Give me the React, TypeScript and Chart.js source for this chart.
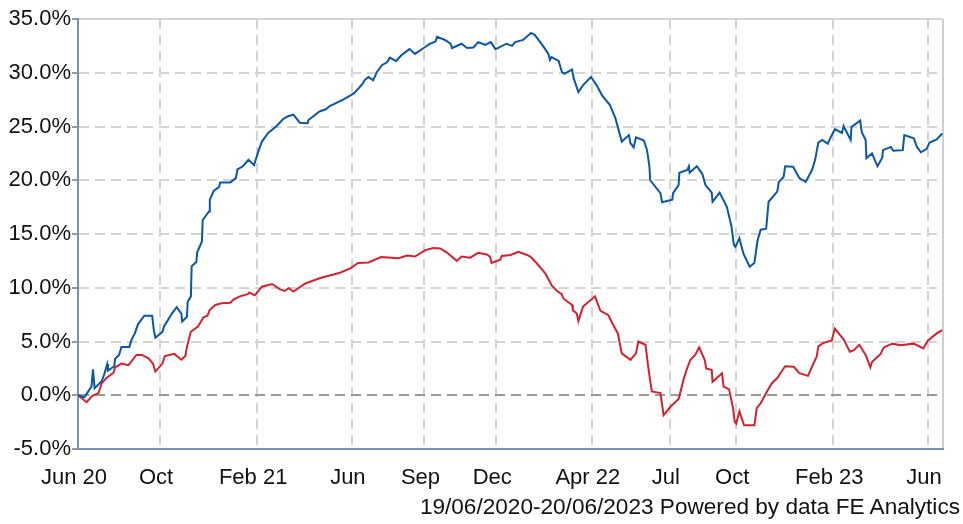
import React, { useEffect, useRef } from "react";
import { Chart, registerables } from "chart.js";

Chart.register(...registerables);

// Days since 19/06/2020
const blueDays = [0, 8, 17, 19, 21, 30, 33, 37, 38, 46, 47, 52, 55, 65, 68, 72, 76, 84, 94, 96, 98, 107, 109, 119, 125, 131, 132, 138, 139, 143, 144, 150, 151, 157, 158, 166, 167, 172, 179, 180, 193, 200, 202, 209, 216, 223, 229, 233, 241, 251, 260, 266, 273, 281, 291, 292, 306, 314, 319, 336, 350, 361, 363, 368, 374, 379, 385, 392, 395, 403, 410, 420, 427, 438, 446, 453, 455, 465, 472, 474, 486, 493, 501, 507, 516, 523, 529, 543, 550, 554, 564, 574, 579, 590, 596, 598, 600, 609, 613, 616, 626, 628, 634, 640, 650, 657, 664, 674, 681, 689, 698, 700, 704, 707, 717, 721, 724, 725, 738, 740, 753, 754, 761, 762, 772, 774, 775, 784, 791, 795, 803, 804, 813, 822, 828, 831, 833, 838, 843, 851, 857, 859, 861, 865, 872, 875, 886, 888, 894, 896, 906, 914, 922, 930, 934, 938, 943, 950, 953, 959, 968, 970, 979, 980, 991, 993, 998, 999, 1006, 1013, 1019, 1020, 1030, 1033, 1045, 1047, 1059, 1063, 1068, 1075, 1079, 1088, 1095];
const blueValues = [0.0, -0.2, 0.8, 2.4, 0.65, 1.3, 1.9, 2.9, 2.3, 2.7, 3.4, 3.75, 4.5, 4.5, 5.2, 5.75, 6.6, 7.4, 7.4, 6.1, 5.35, 5.9, 6.4, 7.6, 8.2, 7.6, 6.85, 7.3, 8.7, 9.2, 12.0, 12.4, 13.3, 14.3, 16.3, 17.1, 18.2, 19.0, 19.4, 19.8, 19.8, 20.2, 21.0, 21.3, 21.9, 21.4, 22.8, 23.6, 24.4, 25.0, 25.7, 25.95, 26.1, 25.35, 25.3, 25.6, 26.4, 26.6, 26.9, 27.5, 28.1, 29.0, 29.3, 29.6, 29.3, 30.1, 30.7, 31.0, 31.4, 31.1, 31.65, 32.2, 31.75, 32.3, 32.7, 32.9, 33.35, 33.05, 32.7, 32.3, 32.7, 32.3, 32.35, 32.85, 32.6, 32.85, 32.2, 32.7, 32.5, 32.85, 33.05, 33.7, 33.5, 32.4, 31.75, 31.2, 31.45, 31.1, 30.1, 29.9, 30.3, 29.5, 28.2, 28.85, 29.6, 28.85, 27.9, 27.0, 25.75, 23.6, 24.2, 23.45, 23.05, 24.0, 23.7, 22.8, 21.3, 20.0, 18.8, 17.95, 18.2, 18.8, 19.55, 20.7, 20.95, 21.3, 20.7, 21.3, 20.6, 19.55, 18.85, 18.0, 18.85, 17.55, 15.7, 14.0, 13.8, 14.6, 13.2, 11.95, 12.3, 13.35, 14.4, 15.4, 15.5, 18.0, 18.95, 19.85, 20.3, 21.3, 21.25, 20.2, 19.85, 20.95, 21.9, 23.5, 23.75, 23.4, 23.9, 24.75, 24.4, 25.05, 23.75, 24.95, 25.55, 24.5, 23.75, 22.05, 22.5, 21.3, 22.1, 22.8, 23.1, 22.75, 22.8, 24.2, 23.9, 23.1, 22.6, 22.9, 23.5, 23.8, 24.35];

const redDays = [0, 11, 18, 26, 30, 36, 45, 47, 55, 64, 74, 81, 89, 95, 98, 107, 110, 122, 131, 136, 138, 143, 152, 159, 164, 167, 174, 182, 193, 197, 205, 215, 217, 224, 233, 246, 256, 262, 267, 273, 288, 307, 332, 345, 355, 368, 384, 406, 417, 427, 440, 450, 459, 467, 480, 486, 497, 507, 518, 522, 524, 535, 537, 548, 558, 569, 573, 581, 592, 600, 607, 613, 615, 626, 627, 632, 634, 640, 655, 662, 672, 677, 684, 689, 700, 707, 710, 719, 723, 727, 738, 742, 751, 761, 767, 771, 776, 782, 787, 794, 796, 803, 804, 816, 818, 825, 830, 832, 834, 838, 844, 857, 860, 865, 873, 879, 886, 890, 896, 907, 914, 925, 930, 936, 938, 944, 955, 959, 970, 978, 983, 990, 998, 1004, 1006, 1017, 1021, 1032, 1042, 1059, 1071, 1077, 1088, 1095];
const redValues = [0.0, -0.65, -0.05, 0.2, 1.1, 1.6, 2.1, 2.6, 2.95, 2.8, 3.75, 3.75, 3.45, 2.95, 2.2, 2.95, 3.65, 3.85, 3.3, 3.65, 4.5, 5.9, 6.4, 7.25, 7.4, 7.95, 8.4, 8.55, 8.6, 8.9, 9.2, 9.4, 9.55, 9.3, 10.1, 10.35, 9.85, 9.7, 9.95, 9.65, 10.4, 10.9, 11.4, 11.8, 12.3, 12.35, 12.85, 12.75, 13.0, 12.9, 13.5, 13.7, 13.65, 13.3, 12.5, 12.9, 12.8, 13.25, 13.1, 12.9, 12.3, 12.6, 12.95, 13.05, 13.35, 13.05, 12.9, 12.3, 11.35, 10.25, 9.7, 9.4, 9.0, 8.4, 7.9, 7.6, 6.9, 8.25, 9.2, 7.85, 7.45, 6.7, 5.75, 3.9, 3.3, 3.9, 5.0, 4.7, 2.35, 0.35, 0.2, -1.85, -1.05, -0.35, 1.4, 2.35, 3.3, 3.75, 4.45, 3.3, 2.5, 2.35, 1.25, 2.05, 0.8, 0.55, -1.2, -2.45, -2.65, -1.5, -2.8, -2.8, -1.2, -0.75, 0.35, 1.1, 1.6, 2.05, 2.7, 2.65, 2.05, 1.8, 2.65, 3.6, 4.55, 4.85, 5.1, 6.2, 5.2, 4.05, 4.2, 4.7, 3.75, 2.6, 3.1, 3.85, 4.45, 4.8, 4.65, 4.8, 4.35, 5.1, 5.75, 6.05];

const tickDays = [0, 104, 227, 347, 439, 530, 651, 750, 834, 957, 1077, 1096];
const tickLabels = ["Jun 20", "Oct", "Feb 21", "Jun", "Sep", "Dec", "Apr 22", "Jul", "Oct", "Feb 23", "Jun", ""];

const yMin = -5;
const yMax = 35;
const yStep = 5;
const xMax = 1096;
const footerText = "19/06/2020-20/06/2023 Powered by data FE Analytics";

const FONT = "'Liberation Sans', Arial, sans-serif";

export default function App() {
  const ref = useRef<HTMLCanvasElement | null>(null);

  useEffect(() => {
    const canvas = ref.current;
    if (!canvas) return;
    const toPts = (d: number[], v: number[]) => d.map((x, i) => ({ x, y: v[i] }));
    const chart = new Chart(canvas, {
      type: "line",
      data: {
        datasets: [
          {
            label: "Fund",
            data: toPts(blueDays, blueValues),
            borderColor: "#0b57a3",
            borderWidth: 2,
            pointRadius: 0,
            tension: 0,
            fill: false,
          },
          {
            label: "Index",
            data: toPts(redDays, redValues),
            borderColor: "#d0232f",
            borderWidth: 2,
            pointRadius: 0,
            tension: 0,
            fill: false,
          },
        ],
      },
      options: {
        responsive: false,
        animation: false,
        devicePixelRatio: 1,
        layout: { padding: { left: 0, right: 20, top: 19, bottom: 0 } },
        plugins: { legend: { display: false }, tooltip: { enabled: false }, title: { display: false } },
        scales: {
          x: {
            type: "linear",
            min: 0,
            max: xMax,
            afterFit: (s: any) => {
              s.height = 75;
            },
            afterBuildTicks: (s: any) => {
              s.ticks = tickDays.map((v) => ({ value: v }));
            },
            ticks: {
              autoSkip: false,
              maxRotation: 0,
              color: "#111",
              font: { family: FONT, size: 22 },
              padding: 12,
              labelOffset: -4,
              callback: (_v: any, i: number) => tickLabels[i],
            },
            grid: {
              color: (c: any) => (c.tick && c.tick.value === xMax ? "#cfcfcf" : "#d4d4d4"),
              lineWidth: 2,
              drawTicks: true,
              tickLength: 4,
              tickColor: "rgba(0,0,0,0)",
            },
            border: {
              display: true,
              color: "#7393bd",
              width: 2,
              dash: (c: any) => (c.tick && (c.tick.value === xMax || c.tick.value === 0) ? [] : [10, 6]),
            },
          },
          y: {
            min: yMin,
            max: yMax,
            afterFit: (s: any) => {
              s.width = 78;
            },
            ticks: {
              stepSize: yStep,
              color: "#111",
              padding: 1,
              font: { family: FONT, size: 22 },
              callback: (v: any) => Number(v).toFixed(1) + "%",
            },
            grid: {
              color: (c: any) => (c.tick && c.tick.value === 0 ? "#9a9a9a" : "#d4d4d4"),
              lineWidth: 2,
              drawTicks: true,
              tickLength: 6,
              tickColor: "#333",
              tickWidth: 1,
            },
            border: {
              display: true,
              color: "#7393bd",
              width: 2,
              dash: (c: any) => (c.tick && c.tick.value === yMax ? [] : [10, 6]),
            },
          },
        },
      },
    });
    return () => chart.destroy();
  }, []);

  return (
    <div style={{ position: "fixed", left: 0, top: 0, width: 963, height: 524, background: "#fff" }}>
      <canvas ref={ref} width={963} height={524} style={{ display: "block", width: 963, height: 524 }} />
      <div
        style={{
          position: "absolute",
          right: 3,
          top: 494,
          fontFamily: FONT,
          fontSize: 22.6,
          color: "#111",
          whiteSpace: "nowrap",
        }}
      >
        {footerText}
      </div>
    </div>
  );
}
